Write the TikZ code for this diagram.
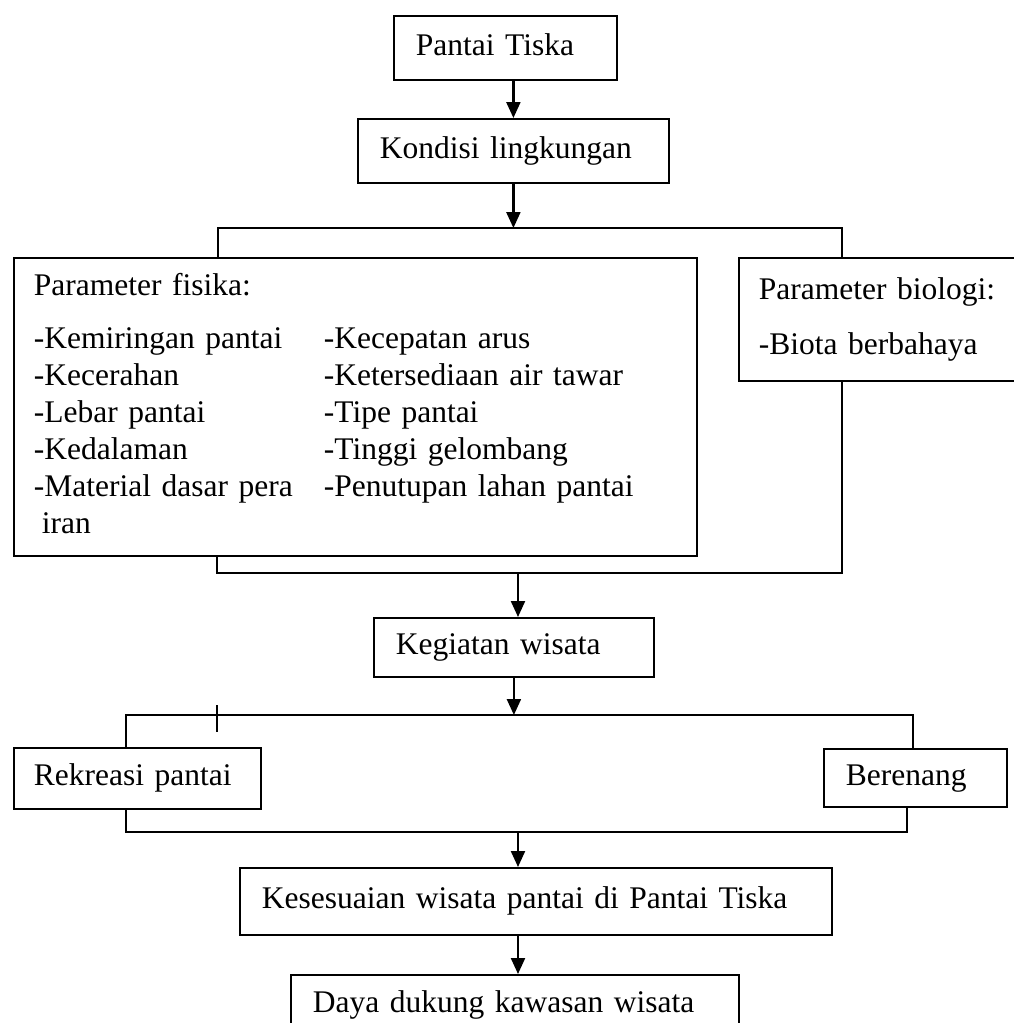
\documentclass[tikz,border=0pt]{standalone}
\usepackage{fontspec}
\setmainfont{Liberation Serif}
\usetikzlibrary{arrows.meta,calc}
\newcommand\bigtxt{\fontsize{31.5}{37}\selectfont}
\begin{document}
\begin{tikzpicture}[x=1pt,y=-1pt,
  ln/.style={line width=1.8pt},
  arr/.style={line width=2.2pt,-{Triangle[length=16pt,width=14pt]}},
  box/.style={draw,line width=1.8pt,rectangle,anchor=north west,align=left,
     inner ysep=0pt,inner xsep=#1,font=\bigtxt,text height=22pt,text depth=7pt},
  box/.default=22pt,
  bigbox/.style={draw,line width=1.8pt,rectangle,anchor=north west,align=left,
     inner ysep=0pt,inner xsep=20pt,font=\bigtxt}
]
\useasboundingbox (0,0) rectangle (1013,1023);

% boxes
\node[box,minimum height=64pt,text width=179pt] (pantai) at (393,15) {Pantai Tiska};
\node[box,minimum height=64pt,text width=267pt] (kondisi) at (357,118) {Kondisi lingkungan};
\node[bigbox,minimum height=298pt,text width=643pt] (phys) at (13,257) {%
\begin{tabular}{@{}p{290pt}@{}l@{}}
\multicolumn{2}{@{}l@{}}{Parameter fisika:}\\[16pt]
-Kemiringan pantai & -Kecepatan arus\\
-Kecerahan & -Ketersediaan air tawar\\
-Lebar pantai & -Tipe pantai\\
-Kedalaman & -Tinggi gelombang\\
-Material dasar pera & -Penutupan lahan pantai\\
\hspace{8pt}iran & \\
\end{tabular}};
\node[bigbox,minimum height=123pt,text width=245pt] (bio) at (738,257) {%
\begin{tabular}{@{}l@{}}
Parameter biologi:\\[18pt]
-Biota berbahaya
\end{tabular}};
\node[box,minimum height=59pt,text width=236pt] (kegiatan) at (373,617) {Kegiatan wisata};
\node[box=20pt,minimum height=61pt,text width=207pt] (rek) at (13,747) {Rekreasi pantai};
\node[box,minimum height=58pt,text width=139pt] (ber) at (823,748) {Berenang};
\node[box,minimum height=67pt,text width=548pt] (kes) at (239,867) {Kesesuaian wisata pantai di Pantai Tiska};
\node[box,minimum height=60pt,text width=404pt] (daya) at (290,974) {Daya dukung kawasan wisata};

% junction coordinates
\coordinate (f1l) at (218,228);
\coordinate (f1r) at (842,228);
\coordinate (j2l) at (217,573);
\coordinate (j2r) at (842,573);
\coordinate (j2m) at (518,573);
\coordinate (f3l) at (126,715);
\coordinate (f3r) at (913,715);
\coordinate (tka) at (217,705);
\coordinate (tkb) at (217,732);
\coordinate (j4l) at (126,832);
\coordinate (j4r) at (907,832);
\coordinate (j4m) at (518,832);

% connectors
\draw[arr] (kondisi.north |- pantai.south) -- (kondisi.north);
\draw[arr] (kondisi.south) -- (kondisi.south |- f1l);
\draw[ln] (f1l |- phys.north) -- (f1l) -- (f1r) -- (f1r |- bio.north);
\draw[ln] (j2l |- phys.south) -- (j2l) -- (j2r) -- (j2r |- bio.south);
\draw[arr] (j2m) -- (j2m |- kegiatan.north);
\draw[arr] (kegiatan.south) -- (kegiatan.south |- f3l);
\draw[ln] (f3l |- rek.north) -- (f3l) -- (f3r) -- (f3r |- ber.north);
\draw[ln] (tka) -- (tkb);
\draw[ln] (j4l |- rek.south) -- (j4l) -- (j4r) -- (j4r |- ber.south);
\draw[arr] (j4m) -- (j4m |- kes.north);
\draw[arr] (j4m |- kes.south) -- (j4m |- daya.north);
\end{tikzpicture}
\end{document}
